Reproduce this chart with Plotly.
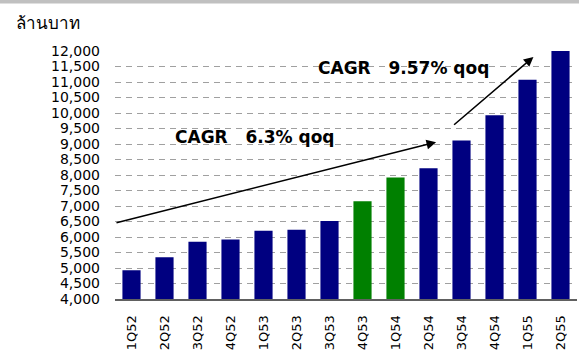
import plotly.graph_objects as go

categories = ["1Q52", "2Q52", "3Q52", "4Q52", "1Q53", "2Q53", "3Q53",
              "4Q53", "1Q54", "2Q54", "3Q54", "4Q54", "1Q55", "2Q55"]
values = [4925, 5350, 5850, 5920, 6200, 6230, 6520,
          7155, 7920, 8215, 9110, 9930, 11075, 12000]
highlight = ["4Q53", "1Q54"]

y_unit = "ล้านบาท"
cagr1_text = "CAGR   6.3% qoq"
cagr2_text = "CAGR   9.57% qoq"

NAVY = "#000080"
GREEN = "#008000"
colors = [GREEN if c in highlight else NAVY for c in categories]

fig = go.Figure()
fig.add_trace(go.Bar(
    x=list(range(len(categories))), y=values,
    marker=dict(color=colors, line=dict(width=0)),
    width=0.55,
))

fig.update_layout(
    width=579, height=352,
    margin=dict(l=115, r=2, t=51, b=50),
    paper_bgcolor="white", plot_bgcolor="white",
    showlegend=False,
    font=dict(family="DejaVu Sans", color="#000000"),
    xaxis=dict(
        tickmode="array", tickvals=list(range(len(categories))), ticktext=categories,
        range=[-0.5, len(categories) - 0.5],
        tickangle=-90, tickfont=dict(family="DejaVu Sans", size=13, color="#000"),
        ticklabelstandoff=9,
        showgrid=False, zeroline=False,
        showline=True, linecolor="#606060", linewidth=2,
        ticks="", ticklen=0,
    ),
    yaxis=dict(
        range=[4000, 12000], tickmode="linear", tick0=4000, dtick=500,
        tickformat=",d", tickfont=dict(family="DejaVu Sans", size=14, color="#000"),
        ticklabelstandoff=14,
        showgrid=True, gridcolor="#a0a0a0", gridwidth=1, griddash="6px,5px",
        zeroline=False, showline=False, ticks="", ticklen=0,
    ),
)

# top grey strip
fig.add_shape(type="rect", xref="paper", yref="paper",
              x0=-0.26, x1=1.01, y0=1 + 48 / 251, y1=1 + 52 / 251,
              fillcolor="#c0c0c0", line=dict(width=0), layer="above")

# unit label
fig.add_annotation(text=y_unit, xref="paper", yref="paper",
                   x=-115 / 462 + 14 / 462, y=1 + (51 - 22) / 251,
                   xanchor="left", yanchor="middle", showarrow=False,
                   font=dict(family="Noto Sans", size=17, color="#000"))

# CAGR arrows
arrow1 = dict(tail=(-0.5, 6450), head=(9.23, 9060))
arrow2 = dict(tail=(9.73, 9580), head=(12.18, 11810))
for a in (arrow1, arrow2):
    fig.add_annotation(x=a["head"][0], y=a["head"][1], ax=a["tail"][0], ay=a["tail"][1],
                       xref="x", yref="y", axref="x", ayref="y",
                       text="", showarrow=True, arrowhead=2, arrowsize=1.2,
                       arrowwidth=1.6, arrowcolor="#000")

fig.add_annotation(text="<b>" + cagr1_text + "</b>", x=3.74, y=9227, xref="x", yref="y",
                   showarrow=False, font=dict(family="DejaVu Sans", size=17, color="#000"))
fig.add_annotation(text="<b>" + cagr2_text + "</b>", x=8.24, y=11458, xref="x", yref="y",
                   showarrow=False, font=dict(family="DejaVu Sans", size=17, color="#000"))

fig.write_html("out.html")
